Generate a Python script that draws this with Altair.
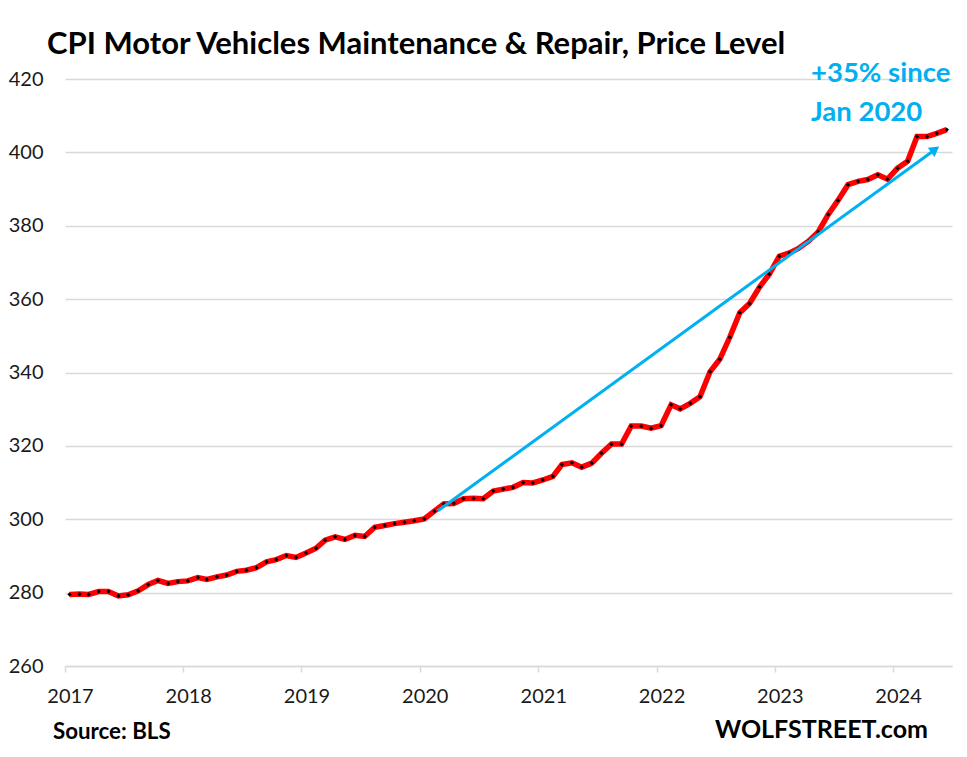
import altair as alt
import pandas as pd

# Monthly CPI values, Jan 2017 .. Jun 2024
values = [
    279.5, 279.6, 279.5, 280.3, 280.3, 279.1, 279.4, 280.5, 282.2, 283.3, 282.5, 283.0,
    283.2, 284.1, 283.6, 284.3, 284.8, 285.8, 286.1, 286.8, 288.4, 289.0, 290.1, 289.6,
    290.8, 292.1, 294.3, 295.2, 294.5, 295.6, 295.3, 297.8, 298.3, 298.8, 299.2, 299.6,
    300.1, 302.2, 304.2, 304.3, 305.6, 305.7, 305.6, 307.7, 308.2, 308.7, 310.0, 309.9,
    310.7, 311.7, 314.9, 315.4, 314.2, 315.3, 318.0, 320.5, 320.5, 325.4, 325.4, 324.8,
    325.5, 331.2, 330.1, 331.6, 333.4, 340.2, 343.6, 349.6, 356.3, 358.8, 363.3, 366.8,
    371.7, 372.6, 373.8, 375.8, 378.3, 383.1, 386.9, 391.2, 392.1, 392.6, 393.9, 392.7,
    395.7, 397.6, 404.3, 404.3, 405.2, 406.2,
]
months = pd.date_range("2017-01-01", periods=len(values), freq="MS") + pd.Timedelta(days=14)
month_labels = [d.strftime("%Y-%m-%dT00:00:00") for d in months]

years = [2017, 2018, 2019, 2020, 2021, 2022, 2023, 2024]
y_ticks = [260, 280, 300, 320, 340, 360, 380, 400, 420]

arrow_dates = ["2020-02-26T00:00:00", "2024-05-10T00:00:00"]
arrow_values = [302.3, 400.8]

title_text = "CPI Motor Vehicles Maintenance & Repair, Price Level"
note_lines = ["+35% since", "Jan 2020"]
source_text = "Source: BLS"
brand_text = "WOLFSTREET.com"

df = pd.DataFrame({"date": month_labels, "value": values})
arrow_df = pd.DataFrame({"date": arrow_dates, "value": arrow_values})

FONT = "Lato"
GRID = "#D9D9D9"
BLUE = "#00B0F0"

x_enc = alt.X(
    "date:T",
    scale=alt.Scale(domain=[alt.DateTime(year=2017, month=1, date=1),
                            alt.DateTime(year=2024, month=7, date=1)]),
    axis=alt.Axis(
        values=[alt.DateTime(year=y, month=1, date=1) for y in years],
        format="%Y", title=None, grid=False,
        domainColor=GRID, domainWidth=1.5,
        tickColor=GRID, tickWidth=1.5, tickSize=6,
        labelFontSize=20, labelFont=FONT, labelColor="#1a1a1a",
        labelPadding=14, labelOffset=5, labelBaseline="top", labelFlush=False,
    ),
)
y_enc = alt.Y(
    "value:Q",
    scale=alt.Scale(domain=[260, 420], nice=False, zero=False),
    axis=alt.Axis(
        values=y_ticks, title=None, grid=True, gridColor=GRID, gridWidth=1.5,
        domain=False, ticks=False,
        labelFontSize=20, labelFont=FONT, labelColor="#1a1a1a", labelPadding=22,
    ),
)

base = alt.Chart(df)
red_line = base.mark_line(color="#FF0000", strokeWidth=5.5).encode(x=x_enc, y=y_enc)
dots = base.mark_point(shape="diamond", filled=True, color="black", size=18, opacity=1).encode(
    x="date:T", y="value:Q")

arrow_line = alt.Chart(arrow_df).mark_line(color=BLUE, strokeWidth=3).encode(x="date:T", y="value:Q")
arrow_head = alt.Chart(arrow_df.tail(1)).mark_point(
    shape="triangle-up", filled=True, color=BLUE, size=130, angle=54, opacity=1
).encode(x="date:T", y="value:Q")

def txt(text, x, y, size, color="black", align="left", weight="bold", lh=None):
    kw = dict(text=text, fontSize=size, font=FONT, fontWeight=weight, color=color,
              align=align, baseline="alphabetic")
    if lh:
        kw["lineHeight"] = lh
    return alt.Chart(pd.DataFrame({"a": [0]})).mark_text(**kw).encode(
        x=alt.value(x), y=alt.value(y))

title = txt(title_text, -18, -25, 31)
note = txt(note_lines, 746, 3, 27.5, color=BLUE, lh=39)
source = txt(source_text, -12, 660, 22.3)
brand = txt(brand_text, 863, 659, 25, align="right")

chart = alt.layer(red_line, dots, arrow_line, arrow_head, title, note, source, brand).properties(
    width=887, height=587,
    autosize=alt.AutoSizeParams(type="none"),
    padding={"left": 57, "top": 71, "right": 7, "bottom": 83},
    background="white",
).configure_view(stroke=None)

chart.save("out.html", embed_options={"renderer": "svg", "actions": False})
